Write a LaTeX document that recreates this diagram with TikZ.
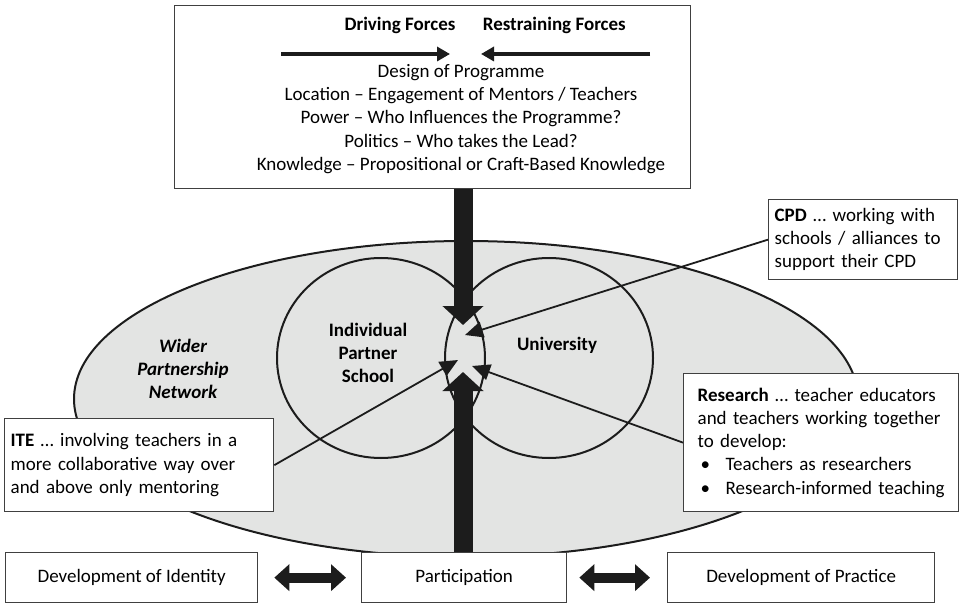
\documentclass[tikz,border=0pt]{standalone}
\usepackage{fontspec}
\setmainfont{Carlito}
\usepackage{tikz}
\usetikzlibrary{positioning}
\usetikzlibrary{arrows.meta}
\definecolor{netgray}{RGB}{227,228,227}
\definecolor{inkblack}{RGB}{28,28,28}

\tikzset{
  framebox/.style={draw=black!75, line width=1.3pt, fill=white},
  infobox/.style={draw=black!75, line width=1.3pt, fill=white, align=left, inner xsep=6pt},
  outcome/.style={draw=black!75, line width=1.3pt, fill=white, minimum height=50pt},
  heading/.style={font=\fontsize{19}{23.2}\selectfont\bfseries},
  partnerlabel/.style={font=\fontsize{19}{23.2}\selectfont\bfseries, align=center},
  netlabel/.style={font=\fontsize{19}{23.2}\selectfont\bfseries\itshape, align=center},
  network/.style={draw=inkblack, line width=2pt, fill=netgray},
  partner/.style={draw=inkblack, line width=2pt},
  bar/.style={draw=inkblack, line width=19pt, -{Triangle[width=40pt,length=19pt]}},
  forcearrow/.style={draw=inkblack, line width=3.5pt, -{Triangle[width=14pt,length=13pt]}},
  twoway/.style={draw=inkblack, line width=10pt, {Triangle[width=26pt,length=15pt]}-{Triangle[width=26pt,length=15pt]}},
  link/.style={draw=inkblack, line width=1.8pt, -{Triangle[width=16pt,length=18pt]}}
}

\begin{document}
\begin{tikzpicture}[x=1pt, y=-1pt,
    every node/.style={font=\fontsize{19}{23.2}\selectfont, inner sep=0pt}]
        \useasboundingbox (0,0) rectangle (961,604);
        % Draw the wider network and the two partners
        \draw [network] (466,399) ellipse [x radius=392, y radius=158];
        \draw [partner] (381,358) ellipse [x radius=104, y radius=100];
        \draw [partner] (549,358) ellipse [x radius=104, y radius=100];
        \node [partnerlabel] (school) at (368,353) {Individual\\Partner\\School};
        \node [partnerlabel] (uni) at (557,345) {University};
        \node [netlabel] (wider) at (183,369) {Wider\\Partnership\\Network};
        % Force field box (use arrows command to insert arrow of choice)
        \node [framebox, minimum width=516pt, minimum height=183pt, anchor=north west] (forcebox) at (174,5) {};
        \node [heading] (drive) at (400,25) {Driving Forces};
        \node [heading, right=27pt of drive] (restrain) {Restraining Forces};
        \coordinate (drivestart) at (281,54);
        \coordinate (driveend) at (450,54);
        \coordinate (reststart) at (650,54);
        \coordinate (restend) at (481,54);
        \draw [forcearrow] (drivestart) -- (driveend);
        \draw [forcearrow] (reststart) -- (restend);
        \node [align=center] (factors) at (461,119) {Design of Programme\\
          Location – Engagement of Mentors / Teachers\\
          Power – Who Influences the Programme?\\
          Politics – Who takes the Lead?\\
          Knowledge – Propositional or Craft-Based Knowledge};
        % Activity boxes
        \node [infobox, text width=257pt, minimum height=93pt, anchor=north west] (ite) at (4,418)
          {\textbf{ITE} … involving teachers in a\\ more collaborative way over\\ and above only mentoring};
        \node [infobox, text width=177pt, minimum height=80pt, anchor=north west] (cpd) at (768,199)
          {\textbf{CPD} … working with\\ schools / alliances to\\ support their CPD};
        \node [infobox, inner xsep=14pt, text width=247pt, minimum height=138pt, anchor=north west] (res) at (683,373)
          {\textbf{Research} … teacher educators\\ and teachers working together\\ to develop:\\
           \hspace*{3pt}\makebox[25pt][l]{\textbullet}Teachers as researchers\\
           \hspace*{3pt}\makebox[25pt][l]{\textbullet}Research-informed teaching};
        % Outcomes along the bottom
        \node [outcome, minimum width=252pt, anchor=north west] (identity) at (5,552) {Development of Identity};
        \node [outcome, minimum width=205pt, anchor=north west] (part) at (361,552) {Participation};
        \node [outcome, minimum width=267pt, anchor=north west] (practice) at (667,552) {Development of Practice};
        \draw [twoway, shorten <=16pt, shorten >=15pt] (identity) -- (part);
        \draw [twoway, shorten <=12pt, shorten >=17pt] (part) -- (practice);
        % Arrows meeting in the overlap
        \coordinate (toptip) at (463,325);
        \coordinate (bottip) at (463,372);
        \coordinate (cpdtip) at (465,335);
        \coordinate (itetip) at (458,360);
        \coordinate (restip) at (472,366);
        \draw [bar] (toptip |- forcebox.south) -- (toptip);
        \draw [bar] (bottip |- part.north) -- (bottip);
        \draw [link] (cpd.west) -- (cpdtip);
        \draw [link] (ite.east) -- (itetip);
        \draw [link] (res.west) -- (restip);
      \end{tikzpicture}
\end{document}
